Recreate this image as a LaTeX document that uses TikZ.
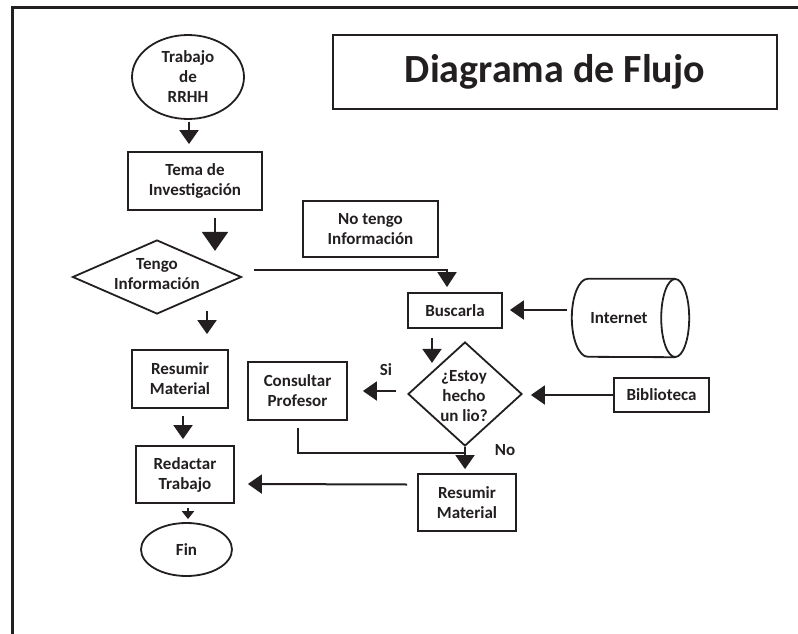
\documentclass[tikz,border=0pt]{standalone}
\usepackage{fontspec}
\setmainfont{Carlito}
\usetikzlibrary{shapes.geometric,arrows.meta,calc}
\definecolor{ink}{HTML}{231F20}
\newcommand{\lblfont}{\fontsize{17}{20}\selectfont\bfseries}
\begin{document}
\begin{tikzpicture}[x=1pt,y=-1pt,
  every node/.style={text=ink},
  shp/.style={draw=ink, line width=1.8pt},
  box/.style={shp, rectangle, inner sep=0pt, align=center, font=\lblfont},
  oval/.style={shp, ellipse, inner sep=0pt, align=center, font=\lblfont},
  dia/.style={shp, diamond, inner sep=0pt},
  lbl/.style={inner sep=0pt, align=center, font=\lblfont},
  conn/.style={draw=ink, line width=2pt},
  arr/.style={conn, -{Triangle[length=14pt,width=19pt]}},
  bigarr/.style={conn, -{Triangle[length=19pt,width=26pt]}},
  smallarr/.style={conn, -{Triangle[length=8pt,width=12pt]}}]
\useasboundingbox (0,0) rectangle (798,634);
% frame
\draw[draw=ink, line width=2.5pt] (12.3,640) -- (12.3,7.3) -- (805,7.3);

% nodes
\node[box, minimum width=444pt, minimum height=74pt] (title) at (555,72)
  {\fontsize{40}{48}\selectfont\bfseries Diagrama de Flujo};
\node[oval, minimum width=112pt, minimum height=84pt] (start) at (188,77) {Trabajo\\de\\RRHH};
\node[box, minimum width=134pt, minimum height=58pt] (tema) at (195,181) {Tema de\\Investigación};
\node[dia, minimum width=169pt, minimum height=74pt] (tengo) at (157,277) {};
\node[lbl] (tengoT) at (157,274) {Tengo\\Información};
\node[box, minimum width=135pt, minimum height=56pt] (notengo) at (370.5,229) {No tengo\\Información};
\node[box, minimum width=94pt, minimum height=35pt] (buscarla) at (455,310.5) {Buscarla};
\node[minimum width=117pt, minimum height=78pt, inner sep=0pt] (internet) at (630.5,318) {};
\draw[shp] ($(internet.north east)+(-14,0)$) -- ($(internet.north west)+(16,0)$)
  arc[start angle=-90, end angle=-270, x radius=16, y radius=39]
  -- ($(internet.south east)+(-14,0)$);
\draw[shp] ($(internet.east)+(-14,0)$) ellipse[x radius=14, y radius=39];
\node[lbl] (internetT) at (619,318) {Internet};
\node[dia, minimum width=114pt, minimum height=104pt] (estoy) at (465,394) {};
\node[lbl] (estoyT) at (464,396) {¿Estoy\\hecho\\un lio?};
\node[box, minimum width=95pt, minimum height=34pt] (biblio) at (661.5,395) {Biblioteca};
\node[box, minimum width=99pt, minimum height=58pt] (consultar) at (297.5,391) {Consultar\\Profesor};
\node[box, minimum width=96pt, minimum height=58pt] (resumir1) at (180,379) {Resumir\\Material};
\node[box, minimum width=98pt, minimum height=57pt] (resumir2) at (467,502.5) {Resumir\\Material};
\node[box, minimum width=98pt, minimum height=57pt] (redactar) at (185,474.5) {Redactar\\Trabajo};
\node[oval, minimum width=91pt, minimum height=53pt] (fin) at (186.5,549.5) {Fin};
\node[lbl] (si) at (386,370) {Si};
\node[lbl] (no) at (505,450) {No};

% connectors
\draw[arr] ($(start.south)+(1,2)$) -- ($(tema.north)+(-6,-7)$);
\draw[bigarr] ($(tema.south)+(20,7)$) -- ++(0,33);
\draw[conn, -{Triangle[length=15pt,width=19pt]}] ($(tengo.east)+(12,-7)$) -| ($(buscarla.north)+(-8,-5)$);
\draw[arr] ($(resumir1.north)+(27,-38)$) -- ($(resumir1.north)+(27,-15)$);
\draw[arr] ($(resumir1.south)+(3,7)$) -- ($(redactar.north)+(-2,-6)$);
\draw[smallarr] ($(redactar.south)+(3,4)$) -- ($(fin.north)+(1.5,-3)$);
\draw[arr] ($(buscarla.south)+(-23,9)$) -- ++(0,25);
\draw[arr] ($(estoy.west)+(-11,-3)$) -- ($(consultar.east)+(15,0)$);
\draw[conn] ($(consultar.south)+(0,7)$) |- ($(estoy.south)+(0,6)$);
\draw[arr] (estoy.south) -- ($(resumir2.north)+(-2,-4)$);
\draw[arr] ($(resumir2.west)+(-10,-18)$) -- ($(redactar.east)+(13,9.5)$);
\draw[arr] ($(internet.west)+(-5,-8)$) -- ($(buscarla.east)+(7,-0.5)$);
\draw[arr] (biblio.west) -- ($(estoy.east)+(8,1)$);
\end{tikzpicture}
\end{document}
